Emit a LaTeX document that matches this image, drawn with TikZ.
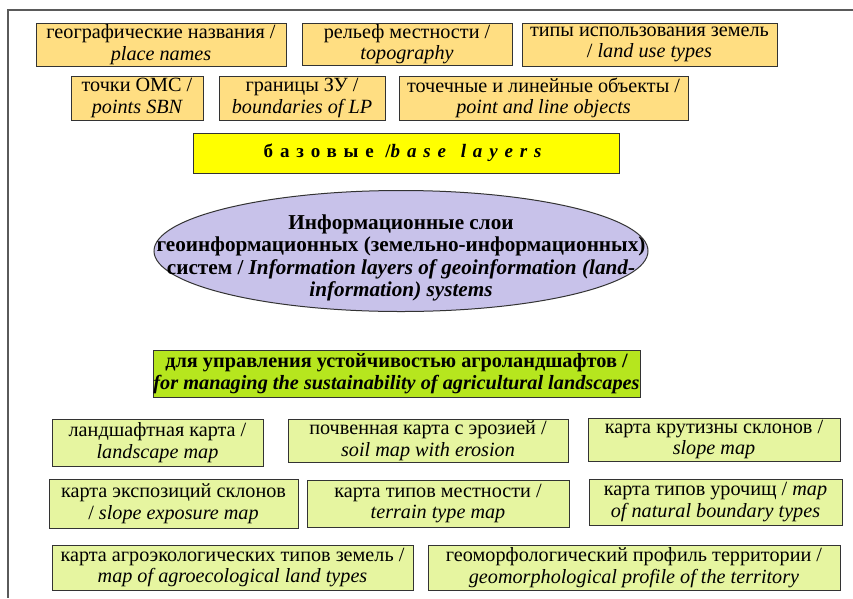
\documentclass[tikz,border=0pt]{standalone}
\usepackage{fontspec}
\setmainfont{Liberation Serif}
\newfontfamily\tms{Liberation Serif}
\usetikzlibrary{shapes.geometric}
\definecolor{topfill}{RGB}{255,222,130}
\definecolor{botfill}{RGB}{230,245,160}
\definecolor{basefill}{RGB}{255,255,0}
\definecolor{greenfill}{RGB}{182,230,30}
\definecolor{ellfill}{RGB}{200,194,234}
\definecolor{framecol}{RGB}{90,90,90}
\begin{document}
\begin{tikzpicture}[x=1pt,y=-1pt,
  box/.style={draw=black!80, line width=1pt, inner sep=0pt, align=center,
    font=\tms\fontsize{20.2}{21.5}\selectfont},
  topbox/.style={box, fill=topfill},
  botbox/.style={box, fill=botfill},
  framestyle/.style={draw=framecol, line width=1.6pt}]
\useasboundingbox (0,0) rectangle (853,598);
\fill[white] (0,0) rectangle (853,598);
\coordinate (fc) at (8,10);
\coordinate (fr) at (853,10);
\coordinate (fb) at (8,598);
\draw[framestyle] (fr) -- (fc) -- (fb);

% top layer boxes
\node[topbox, minimum width=250pt, minimum height=43pt] (n1) at (161,44.5)
  {географические названия /\\\itshape place names};
\node[topbox, minimum width=210pt, minimum height=42pt] (n2) at (407,44)
  {рельеф местности /\\\itshape topography};
\node[topbox, minimum width=255pt, minimum height=43pt] (n3) at (649.5,44.5)
  {типы использования земель\\/ \textit{land use types}};
\node[topbox, minimum width=132pt, minimum height=44pt] (n4) at (137,98)
  {точки ОМС /\\\itshape points SBN};
\node[topbox, minimum width=166pt, minimum height=44pt] (n5) at (302,98)
  {границы ЗУ /\\\itshape boundaries of LP};
\node[topbox, minimum width=289pt, minimum height=44pt] (n6) at (543.5,98)
  {точечные и линейные объекты /\\\itshape point and line objects};

% base layers
\node[box, fill=basefill, minimum width=426pt, minimum height=40pt,
  font=\tms\fontsize{19}{20}\selectfont\bfseries] (base) at (406,153)
  {\addfontfeature{LetterSpace=36}базовые /\textit{base\ \,layers}};

% central ellipse
\node[ellipse, draw=black!80, line width=1pt, fill=ellfill, inner sep=0pt,
  minimum width=494pt, minimum height=121pt] (ell) at (401,251) {};
\node[align=center, inner sep=0pt,
  font=\tms\fontsize{21.2}{22.5}\selectfont\bfseries] (elltext) at (401,258)
  {Информационные слои\\геоинформационных (земельно-информационных)\\систем / \textit{Information layers of geoinformation (land-}\\\textit{information) systems}};

% green bar
\node[box, fill=greenfill, minimum width=487pt, minimum height=47pt,
  font=\tms\fontsize{20.3}{21.5}\selectfont\bfseries] (green) at (396.5,373.5)
  {для управления устойчивостью агроландшафтов /\\\itshape for managing the sustainability of agricultural landscapes};

% bottom boxes
\node[botbox, minimum width=211pt, minimum height=47pt] (b1) at (157.5,442.5)
  {ландшафтная карта /\\\itshape landscape map};
\node[botbox, minimum width=280pt, minimum height=43pt] (b2) at (428,440.5)
  {почвенная карта с эрозией /\\\itshape soil map with erosion};
\node[botbox, minimum width=252pt, minimum height=43pt] (b3) at (714,439.5)
  {карта крутизны склонов /\\\itshape slope map};
\node[botbox, minimum width=249pt, minimum height=49pt] (b4) at (173.5,503.5)
  {карта экспозиций склонов\\/ \textit{slope exposure map}};
\node[botbox, minimum width=262pt, minimum height=47pt] (b5) at (438,503.5)
  {карта типов местности /\\\itshape terrain type map};
\node[botbox, minimum width=253pt, minimum height=46pt] (b6) at (715.5,502)
  {карта типов урочищ / \textit{map}\\\itshape of natural boundary types};
\node[botbox, minimum width=361pt, minimum height=45pt] (b7) at (232.5,567.5)
  {карта агроэкологических типов земель /\\\itshape map of agroecological land types};
\node[botbox, minimum width=412pt, minimum height=45pt] (b8) at (634,567.5)
  {геоморфологический профиль территории /\\\itshape geomorphological profile of the territory};
\end{tikzpicture}
\end{document}
